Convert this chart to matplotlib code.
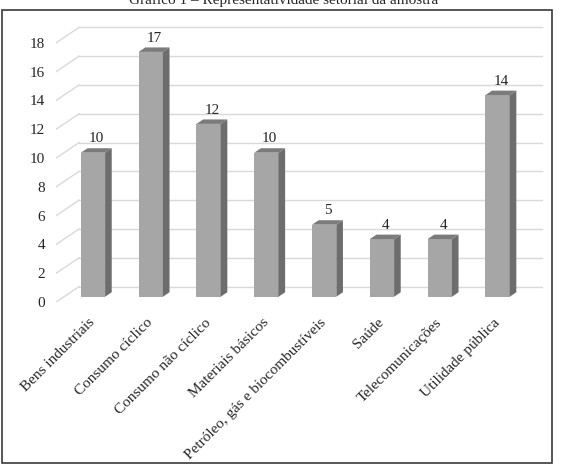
import matplotlib
matplotlib.use("Agg")
import matplotlib.pyplot as plt
from matplotlib.patches import Polygon, Rectangle

''' dados '''
setores = ["Bens industriais", "Consumo cíclico", "Consumo não cíclico", "Materiais básicos",
           "Petróleo, gás e biocombustíveis", "Saúde", "Telecomunicações", "Utilidade pública"]
empresas = [10, 17, 12, 10, 5, 4, 4, 14]
yticks = list(range(0, 20, 2))
titulo = "Gráfico 1 – Representatividade setorial da amostra"

# fake 3d: depth offset of the back wall in data units
depth_x = 0.398
depth_y = 1.076
d0, d1 = 0.342, 0.63   # bar front / back depth
bar_w = 0.42

plt.rcParams['font.family'] = ['Liberation Serif', 'DejaVu Serif']

W, H = 567, 469
fig = plt.figure(figsize=(W / 100, H / 100), dpi=100)

# axes placed in pixels: front plane x=-0.5 at px 56.2, 57.8 px per category, y=0 at px 302, 14.4 px per unit
px_per_cat = 57.8
px_per_val = 14.4
left_px = 85.1 - 0.5 * px_per_cat
right_px = 548
bottom_px = 302
top_px = 12
ax = fig.add_axes([left_px / W, 1 - bottom_px / H, (right_px - left_px) / W, (bottom_px - top_px) / H])
ax.set_xlim(-0.5, -0.5 + (right_px - left_px) / px_per_cat)
ax.set_ylim(0, (bottom_px - top_px) / px_per_val)
for s in ax.spines.values():
    s.set_visible(False)
ax.patch.set_alpha(0)

n = len(setores)
grid_c = "#d9d9d9"
for v in yticks:
    ax.plot([-0.5, -0.5 + depth_x], [v, v + depth_y], color=grid_c, lw=1, zorder=1)
    ax.plot([-0.5 + depth_x, n - 0.5 + depth_x], [v + depth_y, v + depth_y], color=grid_c, lw=1, zorder=1)

xs = list(range(n))
front_x = [x + depth_x * d0 for x in xs]
ax.bar(front_x, empresas, width=bar_w, bottom=depth_y * d0, color="#a6a6a6", zorder=3)

dx = depth_x * (d1 - d0)
dy = depth_y * (d1 - d0)
for fx, v in zip(front_x, empresas):
    b = depth_y * d0
    r = fx + bar_w / 2
    l = fx - bar_w / 2
    side = Polygon([(r, b), (r + dx, b + dy), (r + dx, b + v + dy), (r, b + v)],
                   closed=True, facecolor="#6d6d6d", edgecolor="none", zorder=3)
    top = Polygon([(l, b + v), (r, b + v), (r + dx, b + v + dy), (l + dx, b + v + dy)],
                  closed=True, facecolor="#7b7b7b", edgecolor="none", zorder=3)
    ax.add_patch(side)
    ax.add_patch(top)
    ax.annotate(str(v), (fx + dx / 2, b + v + dy), xytext=(0, 2), textcoords="offset points",
                ha="center", va="bottom", fontsize=11, color="#262626")

ax.set_yticks(yticks)
ax.set_yticklabels([str(v) for v in yticks], fontsize=11, color="#262626")
ax.set_xticks(front_x)
ax.set_xticklabels(setores, fontsize=11, color="#262626", rotation=45, ha="right",
                   va="center", rotation_mode="anchor")
ax.tick_params(axis="both", length=0)
ax.tick_params(axis="y", pad=8)
ax.tick_params(axis="x", pad=13.5)

# moldura
fig.patches.append(Rectangle((2 / W, 1 - 463 / H), 550 / W, 453 / H, transform=fig.transFigure,
                             fill=False, edgecolor="#3a3a3a", lw=1.2))
fig.text(0.5, 1 - 4 / H, titulo, ha="center", va="baseline", fontsize=11, color="#262626")

fig.savefig("out.png", dpi=100)
